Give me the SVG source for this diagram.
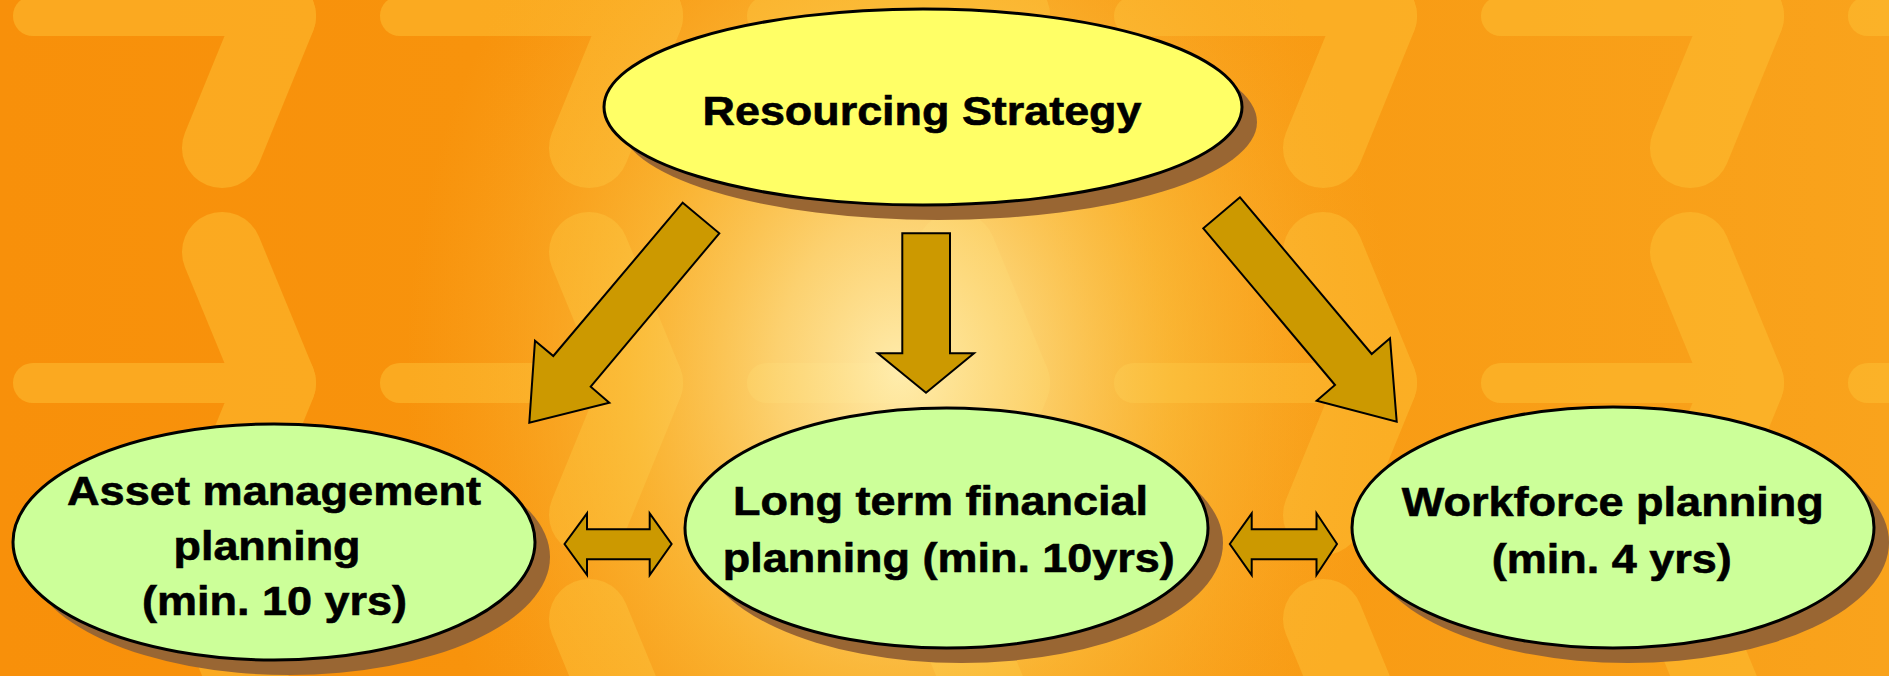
<svg xmlns="http://www.w3.org/2000/svg" width="1889" height="676" viewBox="0 0 1889 676">
<defs>
<style>
.shadow{fill:#996633;stroke:none}
.top{fill:#FFFF66;stroke:#000;stroke-width:3}
.green{fill:#CCFF99;stroke:#000;stroke-width:3}
.arrow{fill:#CC9900;stroke:#000;stroke-width:2;stroke-linejoin:miter}
.lbl{font-family:"Liberation Sans",Arial,Helvetica,sans-serif;font-weight:bold;font-size:40px;fill:#000;stroke:#000;stroke-width:0.6;text-anchor:middle}
.pat{fill:none;stroke:#FDBE30;stroke-width:80;stroke-linecap:round;stroke-linejoin:round}
</style>
<linearGradient id="base" x1="0" y1="0" x2="1" y2="0">
<stop offset="0" stop-color="#F8900A"/>
<stop offset="0.5" stop-color="#F8960E"/>
<stop offset="1" stop-color="#F9A31C"/>
</linearGradient>
<pattern id="tile" patternUnits="userSpaceOnUse" x="0" y="0" width="367" height="367">
<g opacity="0.55">
<rect x="13" y="-4" width="290" height="40" rx="20" fill="#FDBE30"/>
<rect x="13" y="363" width="290" height="40" rx="20" fill="#FDBE30"/>
<line class="pat" x1="276" y1="16" x2="222" y2="148"/>
<line class="pat" x1="222" y1="252" x2="276" y2="383"/>
<line class="pat" x1="222" y1="-115" x2="276" y2="16"/>
<line class="pat" x1="276" y1="383" x2="222" y2="515"/>
</g>
</pattern>
<radialGradient id="glow" gradientUnits="userSpaceOnUse" cx="900" cy="370" r="520" gradientTransform="translate(900 370) scale(0.95 1.2) translate(-900 -370)">
<stop offset="0" stop-color="#FFF0B4" stop-opacity="0.95"/>
<stop offset="0.25" stop-color="#FDE088" stop-opacity="0.8"/>
<stop offset="0.55" stop-color="#FBCA4C" stop-opacity="0.55"/>
<stop offset="1" stop-color="#FAB030" stop-opacity="0"/>
</radialGradient>
</defs>

<g id="background">
<rect x="0" y="0" width="1889" height="676" fill="url(#base)"/>
<rect x="0" y="0" width="1889" height="676" fill="url(#tile)"/>
<rect x="0" y="0" width="1889" height="676" fill="url(#glow)"/>
</g>

<g id="node-resourcing-strategy">
<ellipse class="shadow" cx="938" cy="122" rx="319" ry="98"/>
<ellipse class="top" cx="923" cy="107" rx="319" ry="98"/>
<text class="lbl" x="922" y="125" textLength="439" lengthAdjust="spacingAndGlyphs">Resourcing Strategy</text>
</g>

<g id="node-asset-management">
<ellipse class="shadow" cx="289" cy="557" rx="261" ry="118"/>
<ellipse class="green" cx="274" cy="542" rx="261" ry="118"/>
<text class="lbl" x="274" y="505" textLength="414" lengthAdjust="spacingAndGlyphs">Asset management</text>
<text class="lbl" x="267" y="560" textLength="187" lengthAdjust="spacingAndGlyphs">planning</text>
<text class="lbl" x="274.5" y="615" textLength="265" lengthAdjust="spacingAndGlyphs">(min. 10 yrs)</text>
</g>

<g id="node-long-term-financial">
<ellipse class="shadow" cx="961.5" cy="543" rx="261.5" ry="120"/>
<ellipse class="green" cx="946.5" cy="528" rx="261.5" ry="120"/>
<text class="lbl" x="940.5" y="515" textLength="415" lengthAdjust="spacingAndGlyphs">Long term financial</text>
<text class="lbl" x="948.8" y="571.7" textLength="452" lengthAdjust="spacingAndGlyphs">planning (min. 10yrs)</text>
</g>

<g id="node-workforce">
<ellipse class="shadow" cx="1628" cy="542.5" rx="261" ry="120.5"/>
<ellipse class="green" cx="1613" cy="527.5" rx="261" ry="120.5"/>
<text class="lbl" x="1612.7" y="516" textLength="422" lengthAdjust="spacingAndGlyphs">Workforce planning</text>
<text class="lbl" x="1611.8" y="572.7" textLength="240" lengthAdjust="spacingAndGlyphs">(min. 4 yrs)</text>
</g>

<g id="connectors">
<polygon class="arrow" points="682.7,202.7 719.3,233.3 590.7,386.7 609.3,402.7 529.3,422.7 535,340.7 553.3,356"/>
<polygon class="arrow" points="902.3,233.3 950,233.3 950,353.3 974,353.3 926,392.7 877.7,353.3 902.3,353.3"/>
<polygon class="arrow" points="1240,197.3 1203.3,228.3 1335,385 1316.7,400.7 1396.7,421.7 1390,338.3 1371.7,354"/>
<polygon class="arrow" points="564.5,544 587,513.3 587,529.3 649.7,529.3 649.7,513.3 671.6,544 649.7,575 649.7,559.3 587,559.3 587,575"/>
<polygon class="arrow" points="1229.8,544 1251.7,513.3 1251.7,529.3 1316.5,529.3 1316.5,513.3 1337,544 1316.5,575 1316.5,559.3 1251.7,559.3 1251.7,575"/>
</g>
</svg>
